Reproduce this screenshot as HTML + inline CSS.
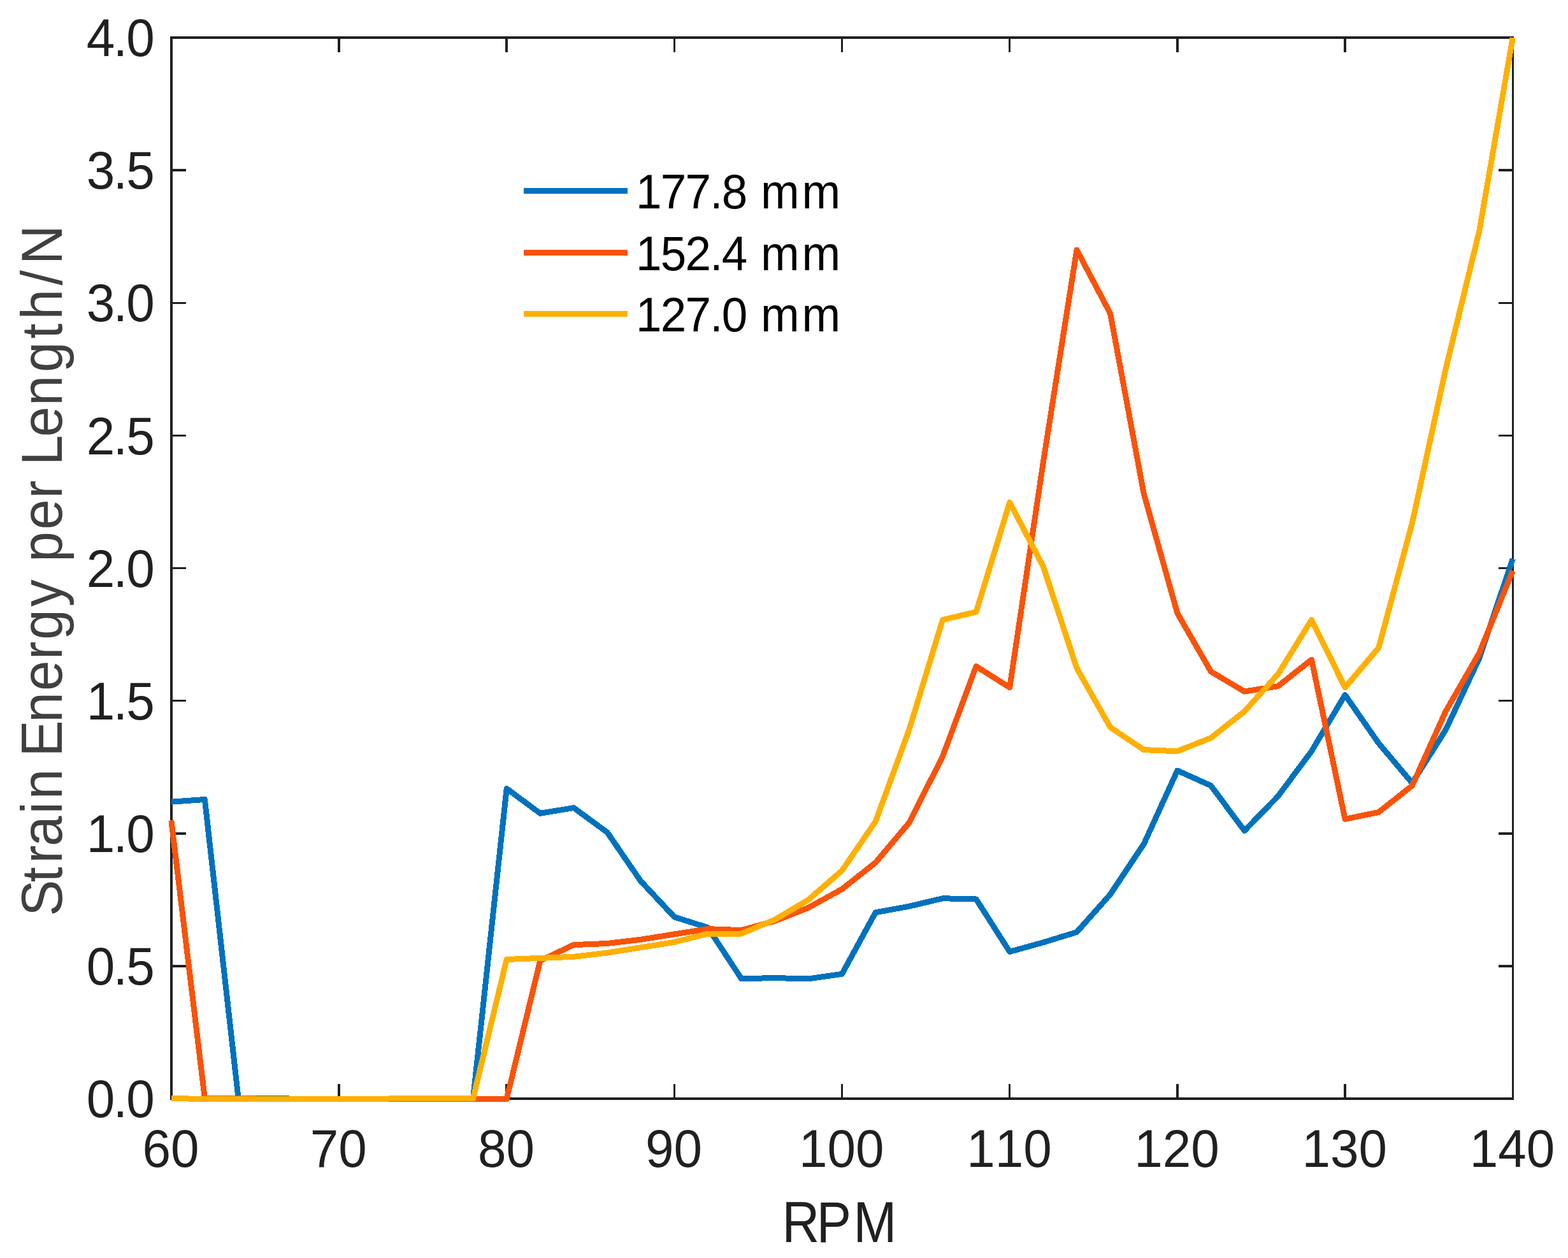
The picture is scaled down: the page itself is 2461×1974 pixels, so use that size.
<!DOCTYPE html>
<html lang="en"><head><meta charset="utf-8"><title>Strain Energy per Length vs RPM</title>
<style>html,body{margin:0;padding:0;background:#fff;}body{width:2461px;height:1974px;overflow:hidden;}svg{display:block;}text{font-family:"Liberation Sans", sans-serif;}</style>
</head><body>
<svg width="2461" height="1974" viewBox="0 0 2461 1974">
<rect x="0" y="0" width="2461" height="1974" fill="#ffffff"/>
<g fill="#202020" shape-rendering="crispEdges">
<rect x="267" y="57" width="2109" height="4"/>
<rect x="267" y="1722" width="2109" height="4"/>
<rect x="267" y="57" width="4" height="1669"/>
<rect x="2373" y="57" width="3" height="1669"/>
<rect x="530" y="59" width="4" height="23"/>
<rect x="530" y="1701" width="4" height="23"/>
<rect x="793" y="59" width="4" height="23"/>
<rect x="793" y="1701" width="4" height="23"/>
<rect x="1057" y="59" width="3" height="23"/>
<rect x="1057" y="1701" width="3" height="23"/>
<rect x="1320" y="59" width="3" height="23"/>
<rect x="1320" y="1701" width="3" height="23"/>
<rect x="1583" y="59" width="3" height="23"/>
<rect x="1583" y="1701" width="3" height="23"/>
<rect x="1846" y="59" width="4" height="23"/>
<rect x="1846" y="1701" width="4" height="23"/>
<rect x="2109" y="59" width="4" height="23"/>
<rect x="2109" y="1701" width="4" height="23"/>
<rect x="269" y="1514" width="23" height="4"/>
<rect x="2352" y="1514" width="23" height="4"/>
<rect x="269" y="1306" width="23" height="4"/>
<rect x="2352" y="1306" width="23" height="4"/>
<rect x="269" y="1098" width="23" height="3"/>
<rect x="2352" y="1098" width="23" height="3"/>
<rect x="269" y="890" width="23" height="3"/>
<rect x="2352" y="890" width="23" height="3"/>
<rect x="269" y="682" width="23" height="3"/>
<rect x="2352" y="682" width="23" height="3"/>
<rect x="269" y="474" width="23" height="3"/>
<rect x="2352" y="474" width="23" height="3"/>
<rect x="269" y="265" width="23" height="4"/>
<rect x="2352" y="265" width="23" height="4"/>
</g>
<g shape-rendering="crispEdges">
<polyline points="268.8,1258.22 321.4,1254.47 374.1,1723.60 426.7,1723.60 479.4,1724.40 532.0,1724.40 584.6,1724.40 637.3,1724.40 689.9,1724.40 742.5,1724.40 795.2,1237.40 847.8,1276.28 900.5,1267.62 953.1,1306.09 1005.7,1382.67 1058.4,1438.87 1111.0,1455.52 1163.6,1535.65 1216.3,1534.61 1268.9,1535.86 1321.5,1528.36 1374.2,1431.79 1426.8,1422.22 1479.5,1409.73 1532.1,1410.98 1584.7,1493.40 1637.4,1478.83 1690.0,1462.60 1742.6,1403.49 1795.3,1324.40 1847.9,1209.10 1900.6,1232.83 1953.2,1303.59 2005.8,1249.47 2058.5,1178.71 2111.1,1090.47 2163.8,1166.22 2216.4,1228.66 2269.0,1145.41 2321.7,1033.03 2374.3,876.93" fill="none" stroke="#0072BD" stroke-width="9.0" stroke-linejoin="round" stroke-linecap="butt"/>
<polyline points="268.8,1287.35 321.4,1723.60 374.1,1723.60 426.7,1724.40 479.4,1724.40 532.0,1724.40 584.6,1724.40 637.3,1724.40 689.9,1724.40 742.5,1724.40 795.2,1724.40 847.8,1507.55 900.5,1482.58 953.1,1480.49 1005.7,1474.25 1058.4,1465.92 1111.0,1457.60 1163.6,1459.68 1216.3,1445.11 1268.9,1424.30 1321.5,1395.16 1374.2,1353.54 1426.8,1291.10 1479.5,1187.04 1532.1,1045.51 1584.7,1078.81 1637.4,725.00 1690.0,392.00 1742.6,491.90 1795.3,774.95 1847.9,962.26 1900.6,1053.84 1953.2,1085.06 2005.8,1076.73 2058.5,1035.11 2111.1,1285.27 2163.8,1274.45 2216.4,1232.83 2269.0,1116.28 2321.7,1024.70 2374.3,895.66" fill="none" stroke="#F9530A" stroke-width="9.0" stroke-linejoin="round" stroke-linecap="butt"/>
<polyline points="268.8,1723.60 321.4,1724.40 374.1,1724.40 426.7,1724.40 479.4,1724.40 532.0,1724.40 584.6,1724.40 637.3,1723.60 689.9,1723.60 742.5,1723.60 795.2,1505.47 847.8,1503.39 900.5,1501.31 953.1,1495.06 1005.7,1486.74 1058.4,1478.41 1111.0,1465.09 1163.6,1465.09 1216.3,1443.03 1268.9,1411.81 1321.5,1366.03 1374.2,1289.02 1426.8,1145.41 1479.5,972.67 1532.1,960.18 1584.7,788.27 1637.4,889.00 1690.0,1048.43 1742.6,1141.25 1795.3,1176.63 1847.9,1178.71 1900.6,1157.90 1953.2,1116.28 2005.8,1058.00 2058.5,972.67 2111.1,1078.81 2163.8,1016.38 2216.4,820.74 2269.0,579.31 2321.7,362.86 2374.3,59.00" fill="none" stroke="#FFB000" stroke-width="9.0" stroke-linejoin="round" stroke-linecap="butt"/>
</g>
<g font-size="83" fill="#202020" style="font-kerning:none">
<text transform="translate(242.8,1753.1) scale(0.964,1)" text-anchor="end" dx="0 -2.6 -1.8">0.0</text>
<text transform="translate(242.8,1545.0) scale(0.964,1)" text-anchor="end" dx="0 -2.6 -1.8">0.5</text>
<text transform="translate(242.8,1336.8) scale(0.964,1)" text-anchor="end" dx="0 -2.6 -1.8">1.0</text>
<text transform="translate(242.8,1128.7) scale(0.964,1)" text-anchor="end" dx="0 -2.6 -1.8">1.5</text>
<text transform="translate(242.8,920.6) scale(0.964,1)" text-anchor="end" dx="0 -2.6 -1.8">2.0</text>
<text transform="translate(242.8,712.5) scale(0.964,1)" text-anchor="end" dx="0 -2.6 -1.8">2.5</text>
<text transform="translate(242.8,504.4) scale(0.964,1)" text-anchor="end" dx="0 -2.6 -1.8">3.0</text>
<text transform="translate(242.8,296.2) scale(0.964,1)" text-anchor="end" dx="0 -2.6 -1.8">3.5</text>
<text transform="translate(242.8,88.1) scale(0.964,1)" text-anchor="end" dx="0 -2.6 -1.8">4.0</text>
<text transform="translate(268.0,1831.2) scale(0.964,1)" text-anchor="middle">60</text>
<text transform="translate(531.2,1831.2) scale(0.964,1)" text-anchor="middle">70</text>
<text transform="translate(794.4,1831.2) scale(0.964,1)" text-anchor="middle">80</text>
<text transform="translate(1057.6,1831.2) scale(0.964,1)" text-anchor="middle">90</text>
<text transform="translate(1320.8,1831.2) scale(0.964,1)" text-anchor="middle">100</text>
<text transform="translate(1583.9,1831.2) scale(0.964,1)" text-anchor="middle">110</text>
<text transform="translate(1847.1,1831.2) scale(0.964,1)" text-anchor="middle">120</text>
<text transform="translate(2110.3,1831.2) scale(0.964,1)" text-anchor="middle">130</text>
<text transform="translate(2373.5,1831.2) scale(0.964,1)" text-anchor="middle">140</text>
</g>
<text transform="translate(0,1949.0) scale(0.9,1)" x="1364.0 1424.1 1488.3" font-size="90.3" fill="#202020">RPM</text>
<text transform="translate(97.0,1431.3) rotate(-90) scale(0.94,1)" x="-6.8 50.1 81.4 110.0 164.0 188.3 238.9 259.4 316.6 369.5 421.5 454.9 509.9 555.4 584.6 638.5 690.6 720.9 745.9 793.3 845.4 901.3 957.3 989.1 1046.4 1081.1" font-size="91" fill="#404040">Strain Energy per Length/N</text>
<rect x="822" y="295" width="163" height="9" fill="#0072BD" shape-rendering="crispEdges"/>
<text transform="translate(998.0,326.7) scale(0.965,1)" dx="0 -1.8 -1.8 -1.8 -1.8 -1.8 2.6 3.8" font-size="75.4" fill="#000000">177.8 mm</text>
<rect x="822" y="392" width="163" height="9" fill="#F9530A" shape-rendering="crispEdges"/>
<text transform="translate(998.0,423.7) scale(0.965,1)" dx="0 -1.8 -1.8 -1.8 -1.8 -1.8 2.6 3.8" font-size="75.4" fill="#000000">152.4 mm</text>
<rect x="822" y="488" width="163" height="9" fill="#FFB000" shape-rendering="crispEdges"/>
<text transform="translate(998.0,520.0) scale(0.965,1)" dx="0 -1.8 -1.8 -1.8 -1.8 -1.8 2.6 3.8" font-size="75.4" fill="#000000">127.0 mm</text>
</svg>
</body></html>
